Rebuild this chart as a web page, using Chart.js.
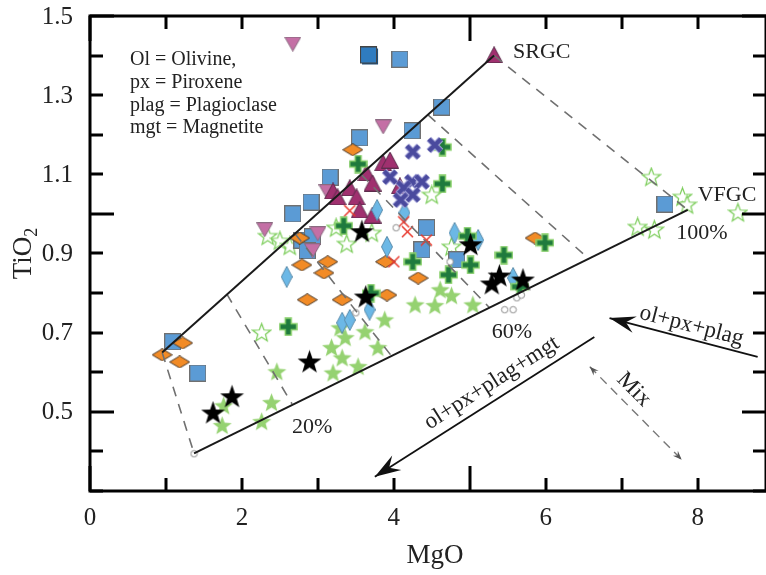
<!DOCTYPE html>
<html>
<head>
<meta charset="utf-8">
<script src="https://cdn.jsdelivr.net/npm/chart.js@4.4.1/dist/chart.umd.min.js"></script>
<style>
  html, body { margin: 0; padding: 0; background: #fff; overflow: hidden; }
  #chart { display: block; }
</style>
</head>
<body>
<canvas id="chart" width="766" height="575"></canvas>
<script>
// Sample groups, [MgO, TiO2]
const blueSquares = [
  [4.08, 1.391], [4.63, 1.270], [3.55, 1.192], [4.24, 1.210], [3.16, 1.093],
  [2.91, 1.030], [2.67, 1.000], [2.79, 0.934], [2.93, 0.942], [2.86, 0.907],
  [4.43, 0.965], [4.37, 0.909], [4.83, 0.884], [1.09, 0.677], [1.42, 0.598],
  [7.57, 1.025]
];
const darkSquares = [[3.68, 1.399]];
const magentaTriangles = [
  [5.32, 1.402], [3.20, 1.058], [3.42, 1.066], [3.51, 1.043], [3.64, 1.104],
  [3.86, 1.129], [3.95, 1.136], [3.72, 1.078], [4.08, 1.071], [3.55, 1.010],
  [3.72, 0.997], [3.26, 1.043]
];
const pinkTriangles = [
  [2.67, 1.429], [3.86, 1.220], [2.30, 0.960], [3.12, 1.056], [3.00, 0.950],
  [2.93, 0.907]
];
const orangeDiamonds = [
  [3.46, 1.162], [2.76, 0.939], [2.79, 0.871], [3.13, 0.879], [3.08, 0.851],
  [2.86, 0.783], [3.32, 0.783], [3.89, 0.879], [4.32, 0.838], [3.91, 0.795],
  [5.86, 0.939], [1.22, 0.674], [0.95, 0.644], [1.18, 0.626]
];
const blueDiamonds = [
  [2.59, 0.841], [3.32, 0.725], [3.42, 0.732], [3.68, 0.758], [4.14, 1.003],
  [3.91, 0.917], [4.80, 0.952], [5.11, 0.934], [5.57, 0.838], [3.78, 1.010]
];
const greenCrosses = [
  [3.53, 1.126], [4.64, 1.169], [4.64, 1.076], [3.34, 0.970], [4.97, 0.944],
  [4.25, 0.879], [4.72, 0.846], [5.01, 0.871], [5.45, 0.896], [5.99, 0.927],
  [3.70, 0.800], [5.66, 0.816], [2.61, 0.715]
];
const navyCrosses = [
  [4.54, 1.174], [4.25, 1.157], [3.95, 1.093], [4.24, 1.081], [4.37, 1.081],
  [4.13, 1.066], [4.25, 1.048], [4.09, 1.035]
];
const redCrosses = [
  [3.42, 1.008], [4.13, 0.980], [4.18, 0.955], [4.43, 0.934], [4.00, 0.879]
];
const greenStars = [
  [4.61, 0.808], [4.76, 0.793], [4.28, 0.770], [4.54, 0.768], [5.04, 0.770],
  [3.88, 0.732], [3.62, 0.702], [3.29, 0.712], [3.36, 0.687], [3.18, 0.662],
  [3.32, 0.636], [3.79, 0.662], [3.53, 0.614], [3.20, 0.598], [2.46, 0.601],
  [2.39, 0.523], [2.26, 0.475], [1.74, 0.465], [1.76, 0.515]
];
const openStars = [
  [7.39, 1.093], [7.80, 1.043], [7.86, 1.023], [8.53, 1.003], [7.21, 0.967],
  [7.43, 0.960], [2.26, 0.700], [2.34, 0.944], [2.50, 0.932], [2.63, 0.919],
  [4.50, 1.048], [3.38, 0.924], [3.71, 0.952], [4.76, 0.917], [3.24, 0.965]
];
const blackStars = [
  [1.62, 0.497], [1.87, 0.538], [2.89, 0.626], [3.58, 0.955], [5.01, 0.922],
  [5.39, 0.843], [5.29, 0.823], [5.70, 0.833], [3.63, 0.790]
];
const grayCircles = [
  [1.37, 0.394], [4.03, 0.965], [4.74, 0.879], [3.50, 0.750], [5.46, 0.758],
  [5.57, 0.758], [5.62, 0.788], [5.68, 0.795]
];

// Mixing lines and tie lines
const srgcLine = [[0.95, 0.65], [5.32, 1.40]];
const vfgcLine = [[1.37, 0.395], [7.87, 1.01]];
const tieLines = [
  [[0.95, 0.65], [1.37, 0.395]],
  [[1.80, 0.798], [2.66, 0.52]],
  [[2.70, 0.95], [3.97, 0.641]],
  [[3.57, 1.10], [5.26, 0.763]],
  [[4.45, 1.25], [6.57, 0.886]],
  [[5.32, 1.40], [7.87, 1.01]]
];

// Arrows: [start, tip]
const arrowPlag = [[8.79, 0.639], [6.84, 0.737]];
const arrowMgt = [[6.64, 0.689], [3.75, 0.336]];
const arrowMix = [[6.58, 0.614], [7.79, 0.379]];

const xTickLabels = [0, 2, 4, 6, 8];
const yTickLabels = [0.5, 0.7, 0.9, 1.1, 1.3, 1.5];
const notes = [
  { text: 'SRGC', x: 5.57, y: 1.409 },
  { text: 'VFGC', x: 8.0, y: 1.048 },
  { text: '100%', x: 7.72, y: 0.952 },
  { text: '60%', x: 5.29, y: 0.70 },
  { text: '20%', x: 2.66, y: 0.462 }
];
const legendLines = ['Ol = Olivine,', 'px = Piroxene', 'plag = Plagioclase', 'mgt = Magnetite'];

const SERIF = "'Liberation Serif', 'Times New Roman', serif";

// Marker images
function makeMarker(w, h, draw) {
  const c = document.createElement('canvas');
  c.width = w;
  c.height = h;
  draw(c.getContext('2d'), w, h);
  return c;
}
function poly(g, pts) {
  g.beginPath();
  pts.forEach(([x, y], i) => i ? g.lineTo(x, y) : g.moveTo(x, y));
  g.closePath();
}
function starPath(g, cx, cy, R, r) {
  g.beginPath();
  for (let i = 0; i < 10; i++) {
    const a = -Math.PI / 2 + i * Math.PI / 5;
    const d = i % 2 ? r : R;
    g.lineTo(cx + d * Math.cos(a), cy + d * Math.sin(a));
  }
  g.closePath();
}

const squareImg = makeMarker(17, 17, g => {
  g.fillStyle = '#5b9bd5'; g.fillRect(0.5, 0.5, 16, 16);
  g.strokeStyle = '#707070'; g.lineWidth = 1; g.strokeRect(0.5, 0.5, 16, 16);
});
const darkSquareImg = makeMarker(19, 19, g => {
  g.fillStyle = '#1f4f7a'; g.fillRect(2, 2, 16, 16);
  g.fillStyle = '#2f7cc0'; g.fillRect(0.5, 0.5, 16, 16);
  g.strokeStyle = '#444'; g.lineWidth = 1; g.strokeRect(0.5, 0.5, 16, 16);
});
const triUpImg = makeMarker(18, 17, g => {
  poly(g, [[9, 0.5], [17.5, 16.5], [0.5, 16.5]]);
  g.fillStyle = '#a0306f'; g.fill();
  g.strokeStyle = '#5c2c4c'; g.lineWidth = 1; g.stroke();
});
const triDownImg = makeMarker(17, 15, g => {
  poly(g, [[0.5, 0.5], [16.5, 0.5], [8.5, 14.5]]);
  g.fillStyle = '#c46fa5'; g.fill();
  g.strokeStyle = '#8a6a80'; g.lineWidth = 1; g.stroke();
});
const orangeImg = makeMarker(21, 13, g => {
  poly(g, [[10.5, 0.5], [20.5, 6.5], [10.5, 12.5], [0.5, 6.5]]);
  g.fillStyle = '#f28b26'; g.fill();
  g.strokeStyle = '#4a3a2a'; g.lineWidth = 1; g.stroke();
});
const blueDiamondImg = makeMarker(12, 22, g => {
  poly(g, [[6, 0.5], [11.5, 11], [6, 21.5], [0.5, 11]]);
  g.fillStyle = '#6cb8e6'; g.fill();
  g.strokeStyle = '#5b8cab'; g.lineWidth = 1; g.stroke();
});
const crossImg = makeMarker(19, 19, g => {
  poly(g, [[6.5, 1], [12.5, 1], [12.5, 6.5], [18, 6.5], [18, 12.5], [12.5, 12.5],
    [12.5, 18], [6.5, 18], [6.5, 12.5], [1, 12.5], [1, 6.5], [6.5, 6.5]]);
  g.fillStyle = '#1f7a3d'; g.fill();
  g.strokeStyle = '#86cf68'; g.lineWidth = 1.5; g.stroke();
});
const navyXImg = makeMarker(18, 18, g => {
  const draw = (w, c) => {
    g.beginPath();
    g.moveTo(3, 3); g.lineTo(15, 15); g.moveTo(15, 3); g.lineTo(3, 15);
    g.lineWidth = w; g.strokeStyle = c; g.stroke();
  };
  draw(6.5, '#a9a9dc');
  draw(4.5, '#4a4a9e');
});
const redXImg = makeMarker(13, 13, g => {
  g.beginPath();
  g.moveTo(1, 1); g.lineTo(12, 12); g.moveTo(12, 1); g.lineTo(1, 12);
  g.lineWidth = 1.5; g.strokeStyle = '#e8382c'; g.stroke();
});
const greenStarImg = makeMarker(21, 21, g => {
  starPath(g, 10.5, 11, 10, 4.2);
  g.fillStyle = '#95d271'; g.fill();
});
const openStarImg = makeMarker(21, 21, g => {
  starPath(g, 10.5, 11, 9.5, 4);
  g.fillStyle = '#fff'; g.fill();
  g.strokeStyle = '#79cc57'; g.lineWidth = 1.2; g.stroke();
});
const blackStarImg = makeMarker(25, 25, g => {
  starPath(g, 12.5, 13, 12.5, 5);
  g.fillStyle = '#000'; g.fill();
});
const circleImg = makeMarker(9, 9, g => {
  g.beginPath(); g.arc(4.5, 4.5, 3.2, 0, Math.PI * 2);
  g.fillStyle = '#fff'; g.fill();
  g.strokeStyle = '#8a8a8a'; g.lineWidth = 1; g.stroke();
});

const pts = arr => arr.map(([x, y]) => ({ x, y }));

function markerSet(label, arr, img, order) {
  return {
    label, data: pts(arr), pointStyle: img, showLine: false, order,
    pointRadius: img.width / 2, pointHoverRadius: img.width / 2
  };
}
function lineSet(label, arr, color, width, dash) {
  return {
    label, data: pts(arr), showLine: true, borderColor: color, borderWidth: width,
    borderDash: dash, pointRadius: 0, pointHoverRadius: 0, fill: false, order: 0
  };
}

const datasets = [
  lineSet('SRGC trend', srgcLine, '#1a1a1a', 2, []),
  lineSet('VFGC trend', vfgcLine, '#1a1a1a', 2, []),
  ...tieLines.map((t, i) => lineSet('tie ' + i, t, '#707070', 1.6, [10, 8])),
  markerSet('black stars', blackStars, blackStarImg, 1),
  markerSet('circles', grayCircles, circleImg, 2),
  markerSet('red x', redCrosses, redXImg, 3),
  markerSet('navy x', navyCrosses, navyXImg, 4),
  markerSet('green crosses', greenCrosses, crossImg, 5),
  markerSet('blue diamonds', blueDiamonds, blueDiamondImg, 6),
  markerSet('orange diamonds', orangeDiamonds, orangeImg, 7),
  markerSet('magenta triangles', magentaTriangles, triUpImg, 8),
  markerSet('pink triangles', pinkTriangles, triDownImg, 9),
  markerSet('blue squares', blueSquares, squareImg, 10),
  markerSet('dark squares', darkSquares, darkSquareImg, 10),
  markerSet('open stars', openStars, openStarImg, 11),
  markerSet('green stars', greenStars, greenStarImg, 12)
];

function drawArrowHead(ctx, x1, y1, x2, y2, len, half) {
  const ang = Math.atan2(y2 - y1, x2 - x1);
  ctx.save();
  ctx.translate(x2, y2);
  ctx.rotate(ang);
  ctx.beginPath();
  ctx.moveTo(0, 0);
  ctx.lineTo(-len, -half);
  ctx.lineTo(-len * 0.65, 0);
  ctx.lineTo(-len, half);
  ctx.closePath();
  ctx.fill();
  ctx.restore();
}

function rotatedText(ctx, text, cx, cy, ang) {
  ctx.save();
  ctx.translate(cx, cy);
  ctx.rotate(ang);
  ctx.textAlign = 'center';
  ctx.textBaseline = 'middle';
  ctx.fillText(text, 0, 0);
  ctx.restore();
}

const overlay = {
  id: 'overlay',
  afterDatasetsDraw(chart) {
    const { ctx, chartArea: a, scales: { x, y } } = chart;
    const P = ([u, v]) => [x.getPixelForValue(u), y.getPixelForValue(v)];
    ctx.save();

    // process arrows
    ctx.strokeStyle = '#111';
    ctx.fillStyle = '#111';
    ctx.lineWidth = 1.8;
    [arrowPlag, arrowMgt].forEach(([s, t]) => {
      const [x1, y1] = P(s), [x2, y2] = P(t);
      ctx.beginPath(); ctx.moveTo(x1, y1); ctx.lineTo(x2, y2); ctx.stroke();
      drawArrowHead(ctx, x1, y1, x2, y2, 26, 8.5);
    });

    // mixing arrow, dashed with small heads
    const [m1x, m1y] = P(arrowMix[0]), [m2x, m2y] = P(arrowMix[1]);
    ctx.strokeStyle = '#777';
    ctx.fillStyle = '#555';
    ctx.lineWidth = 1.4;
    ctx.setLineDash([9, 6]);
    ctx.beginPath(); ctx.moveTo(m1x, m1y); ctx.lineTo(m2x, m2y); ctx.stroke();
    ctx.setLineDash([]);
    drawArrowHead(ctx, m1x, m1y, m2x, m2y, 9, 3.5);
    drawArrowHead(ctx, m2x, m2y, m1x, m1y, 9, 3.5);

    // labels
    ctx.fillStyle = '#222';
    ctx.font = '22px ' + SERIF;
    ctx.textAlign = 'left';
    ctx.textBaseline = 'middle';
    notes.forEach(n => {
      ctx.fillText(n.text, x.getPixelForValue(n.x), y.getPixelForValue(n.y));
    });

    const angOf = ([s, t]) => {
      const [x1, y1] = P(s), [x2, y2] = P(t);
      return Math.atan2(y1 - y2, x1 - x2);
    };
    ctx.font = '23px ' + SERIF;
    let [cx, cy] = P([7.92, 0.717]);
    rotatedText(ctx, 'ol+px+plag', cx, cy, angOf(arrowPlag));
    [cx, cy] = P([5.29, 0.573]);
    rotatedText(ctx, 'ol+px+plag+mgt', cx, cy, angOf(arrowMgt));
    [cx, cy] = P([7.16, 0.556]);
    rotatedText(ctx, 'Mix', cx, cy, angOf([arrowMix[1], arrowMix[0]]));

    // abbreviations box
    ctx.font = '20px ' + SERIF;
    ctx.textAlign = 'left';
    legendLines.forEach((t, i) => ctx.fillText(t, a.left + 40, a.top + 44 + i * 22.7));

    ctx.restore();
  },
  afterDraw(chart) {
    const { ctx, chartArea: a, scales: { x, y } } = chart;
    ctx.save();
    ctx.strokeStyle = '#000';
    ctx.lineWidth = 3;
    ctx.strokeRect(a.left, a.top, a.right - a.left, a.bottom - a.top);

    // inward ticks on all four sides
    ctx.beginPath();
    for (let k = 0; k <= 12; k++) {
      const v = 0.3 + k * 0.1;
      const p = Math.round(y.getPixelForValue(v));
      const L = (k + 3) % 5 === 0 ? 24 : 13;
      ctx.moveTo(a.left, p); ctx.lineTo(a.left + L, p);
      ctx.moveTo(a.right, p); ctx.lineTo(a.right - L, p);
    }
    for (let v = 0; v <= 8; v++) {
      const p = Math.round(x.getPixelForValue(v));
      const L = v % 5 === 0 ? 25 : 13;
      ctx.moveTo(p, a.bottom); ctx.lineTo(p, a.bottom - L);
      ctx.moveTo(p, a.top); ctx.lineTo(p, a.top + L);
    }
    ctx.stroke();

    // tick labels
    ctx.fillStyle = '#222';
    ctx.font = '25px ' + SERIF;
    ctx.textAlign = 'center';
    ctx.textBaseline = 'middle';
    xTickLabels.forEach(v => ctx.fillText(String(v), x.getPixelForValue(v), a.bottom + 27));
    ctx.textAlign = 'right';
    yTickLabels.forEach(v => ctx.fillText(v.toFixed(1), a.left - 17, y.getPixelForValue(v) + 1));

    // axis titles
    ctx.font = '27px ' + SERIF;
    ctx.textAlign = 'center';
    ctx.fillText('MgO', (a.left + a.right) / 2 + 7, a.bottom + 65);

    ctx.save();
    ctx.translate(22, (a.top + a.bottom) / 2);
    ctx.rotate(-Math.PI / 2);
    ctx.textAlign = 'left';
    ctx.textBaseline = 'alphabetic';
    ctx.font = '27px ' + SERIF;
    const w1 = ctx.measureText('TiO').width;
    ctx.font = '18px ' + SERIF;
    const w2 = ctx.measureText('2').width;
    const x0 = -(w1 + w2) / 2;
    ctx.font = '27px ' + SERIF;
    ctx.fillText('TiO', x0, 9);
    ctx.font = '18px ' + SERIF;
    ctx.fillText('2', x0 + w1, 15);
    ctx.restore();

    ctx.restore();
  }
};

new Chart(document.getElementById('chart'), {
  type: 'scatter',
  data: { datasets },
  plugins: [overlay],
  options: {
    responsive: false,
    animation: false,
    layout: { autoPadding: false, padding: { top: 16, right: 0, left: 90, bottom: 84 } },
    plugins: { legend: { display: false }, tooltip: { enabled: false } },
    scales: {
      x: { type: 'linear', min: 0, max: 8.9, display: false },
      y: { type: 'linear', min: 0.3, max: 1.5, display: false }
    }
  }
});
</script>
</body>
</html>
